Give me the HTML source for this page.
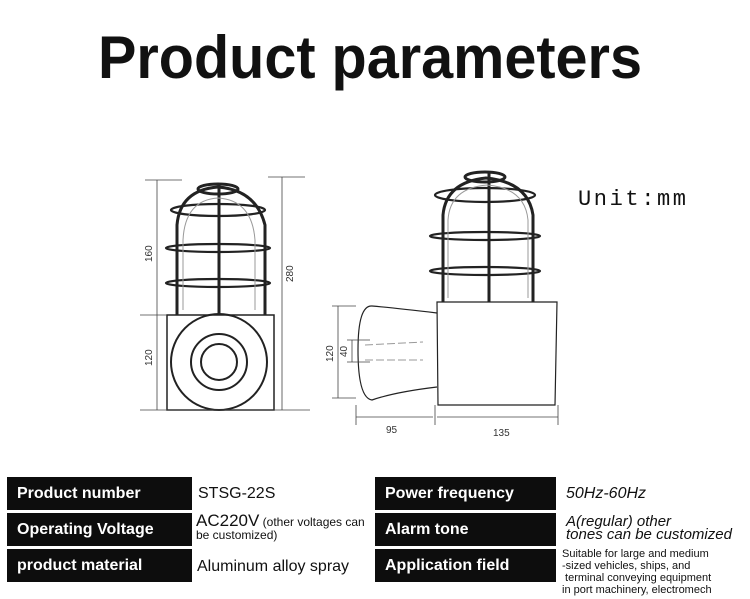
<!DOCTYPE html>
<html><head><meta charset="utf-8"><style>
body{margin:0;width:750px;height:599px;background:#fff;overflow:hidden;position:relative;font-family:"Liberation Sans",sans-serif}
.k{position:absolute;background:#0d0d0d;color:#fff;font-weight:bold;font-size:16px;line-height:33px;padding-left:10px;box-sizing:border-box;height:33px}
.v{position:absolute;color:#111;font-size:16px}
</style></head><body>
<svg width="750" height="599" style="position:absolute;left:0;top:0">
<text x="98" y="78" font-family="Liberation Sans" font-weight="bold" font-size="60" textLength="544" lengthAdjust="spacingAndGlyphs" fill="#111">Product parameters</text>
<text x="578" y="205" font-family="Liberation Mono" font-size="22" textLength="108" lengthAdjust="spacing" fill="#111">Unit:mm</text>
<g fill="none" stroke="#222">
<g stroke-width="3">
<path d="M177 315 L177 225 Q180 190 218 187 Q256 190 265 225 L265 315"/>
<line x1="219" y1="185" x2="219" y2="315"/>
<ellipse cx="218" cy="189" rx="20" ry="5"/>
</g>
<g stroke-width="2.2">
<ellipse cx="218" cy="210" rx="47" ry="6"/>
<ellipse cx="218" cy="248" rx="52" ry="4"/>
<ellipse cx="218" cy="283" rx="52" ry="4"/>
</g>
<path d="M183 310 L183 240 Q185 200 218 198 Q252 200 255 240 L255 310" stroke="#999" stroke-width="1"/>
<rect x="167" y="315" width="107" height="95" stroke-width="1.5"/>
<circle cx="219" cy="362" r="48" stroke-width="2"/>
<circle cx="219" cy="362" r="28" stroke-width="2"/>
<circle cx="219" cy="362" r="18" stroke-width="2"/>
<g stroke-width="0.8" stroke="#444">
<line x1="145" y1="180" x2="182" y2="180"/><line x1="157" y1="180" x2="157" y2="410"/>
<line x1="140" y1="315" x2="167" y2="315"/><line x1="140" y1="410" x2="310" y2="410"/>
<line x1="268" y1="177" x2="305" y2="177"/><line x1="282" y1="177" x2="282" y2="410"/>
</g>
<g stroke-width="3">
<path d="M443 302 L443 215 Q446 182 486 178 Q528 182 533 215 L533 302"/>
<line x1="489" y1="172" x2="489" y2="302"/>
<ellipse cx="485" cy="177" rx="20" ry="5"/>
</g>
<g stroke-width="2.2">
<ellipse cx="485" cy="195" rx="50" ry="7"/>
<ellipse cx="485" cy="236" rx="55" ry="4"/>
<ellipse cx="485" cy="271" rx="55" ry="4"/>
</g>
<path d="M448 298 L448 220 Q450 188 487 185 Q525 188 528 220 L528 298" stroke="#999" stroke-width="1"/>
<path d="M437 302 L557 302 L555 405 L438 405 Z" stroke-width="1.2"/>
<path d="M437 313 Q395 308 372 306 Q358 305 358 350 Q358 398 372 400 Q395 392 437 387" stroke-width="1.2"/>
<path d="M365 345 L423 342 M365 360 L423 360" stroke="#999" stroke-width="1" stroke-dasharray="8 3"/>
<g stroke-width="0.8" stroke="#444">
<line x1="332" y1="306" x2="356" y2="306"/><line x1="338" y1="306" x2="338" y2="398"/><line x1="332" y1="398" x2="356" y2="398"/>
<line x1="347" y1="340" x2="370" y2="340"/><line x1="352" y1="340" x2="352" y2="362"/><line x1="347" y1="362" x2="370" y2="362"/>
<line x1="356" y1="405" x2="356" y2="425"/><line x1="356" y1="417" x2="433" y2="417"/>
<line x1="435" y1="405" x2="435" y2="425"/><line x1="437" y1="417" x2="558" y2="417"/><line x1="558" y1="405" x2="558" y2="425"/>
</g>
</g>
<g font-family="Liberation Sans" font-size="10" fill="#333">
<text transform="translate(152 262) rotate(-90)">160</text>
<text transform="translate(152 366) rotate(-90)">120</text>
<text transform="translate(293 282) rotate(-90)">280</text>
<text transform="translate(333 362) rotate(-90)">120</text>
<text transform="translate(347 357) rotate(-90)">40</text>
<text x="386" y="433">95</text>
<text x="493" y="436">135</text>
</g>
</svg>
<div class="k" style="left:7px;top:477px;width:185px">Product number</div>
<div class="k" style="left:7px;top:513px;width:185px">Operating Voltage</div>
<div class="k" style="left:7px;top:549px;width:185px">product material</div>
<div class="k" style="left:375px;top:477px;width:181px">Power frequency</div>
<div class="k" style="left:375px;top:513px;width:181px">Alarm tone</div>
<div class="k" style="left:375px;top:549px;width:181px">Application field</div>
<div class="v" style="left:198px;top:485px">STSG-22S</div>
<div class="v" style="left:196px;top:514px;font-size:12px;line-height:13px;width:180px"><span style="font-size:17px">AC220V</span> (other voltages can be customized)</div>
<div class="v" style="left:197px;top:558px;font-size:16px">Aluminum alloy spray</div>
<div class="v" style="left:566px;top:485px;font-style:italic">50Hz-60Hz</div>
<div class="v" style="left:566px;top:515px;font-style:italic;font-size:15px;line-height:13px">A(regular) other<br>tones can be customized</div>
<div class="v" style="left:562px;top:548px;font-size:11px;line-height:12px">Suitable for large and medium<br>-sized vehicles, ships, and<br>&nbsp;terminal conveying equipment<br>in port machinery, electromech</div>
</body></html>
